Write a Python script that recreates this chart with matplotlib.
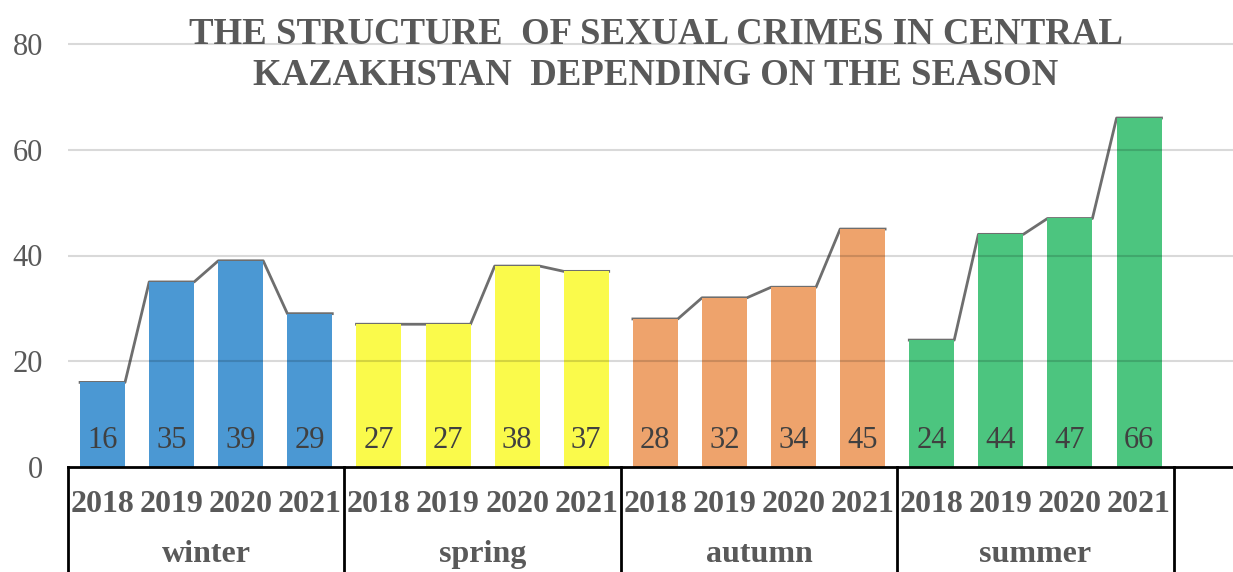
import matplotlib.pyplot as plt
import matplotlib.transforms as mtransforms
import numpy as np

plt.rcParams['font.family'] = ['Liberation Serif', 'DejaVu Serif']

# Number of sexual crimes per season and year
seasons = ["winter", "spring", "autumn", "summer"]
years = ["2018", "2019", "2020", "2021"]
winter = [16, 35, 39, 29]
spring = [27, 27, 38, 37]
autumn = [28, 32, 34, 45]
summer = [24, 44, 47, 66]
season_colors = ["#4B98D3", "#FAFA4B", "#EEA36C", "#4CC57F"]

series = [winter, spring, autumn, summer]
text_gray = "#595959"
bar_w = 0.65

fig = plt.figure(figsize=(12.33, 5.72), dpi=100)
ax = fig.add_axes([68 / 1233, 105 / 572, 1 - 68 / 1233, 467 / 572])

for s, (vals, color) in enumerate(zip(series, season_colors)):
    x = np.arange(len(vals)) + s * len(years)
    ax.bar(x, vals, width=bar_w, color=color, zorder=3)
    # trend line along the bar tops; only the slopes between bars stay visible
    lx = np.column_stack([x - bar_w / 2, x + bar_w / 2]).ravel()
    ly = np.repeat(vals, 2)
    ax.plot(lx, ly, color="#6E6E6E", lw=2, zorder=2)
    for xi, v in zip(x, vals):
        ax.text(xi, 5, str(v), ha="center", va="center", fontsize=22,
                color="#404040", zorder=5)

n = len(seasons) * len(years)
ax.set_xlim(-0.5, -0.5 + 1165 / 69.1)
ax.set_ylim(0, 80 * 467 / 423)
yticks = [0, 20, 40, 60, 80]
ax.set_yticks(yticks)
for yv in yticks[1:]:
    ax.axhline(yv, color="black", alpha=0.15, lw=1.5, zorder=4)
ax.tick_params(axis="y", length=0, labelsize=22, labelcolor=text_gray, pad=18)
ax.set_xticks([])
for side in ["left", "right", "top"]:
    ax.spines[side].set_visible(False)
ax.spines["bottom"].set_linewidth(2)
ax.spines["bottom"].set_color("black")
ax.spines["bottom"].set_zorder(6)

# two-level category axis: years under each bar, seasons under each group
trans = mtransforms.blended_transform_factory(ax.transData, ax.transAxes)
for i in range(n):
    ax.text(i, -37 / 467, years[i % len(years)], transform=trans, ha="center",
            va="center", fontsize=23, fontweight="bold", color=text_gray)
for s, name in enumerate(seasons):
    ax.text(s * 4 + 1.5, -95 / 467, name, transform=trans, ha="center",
            va="baseline", fontsize=23, fontweight="bold", color=text_gray)
for b in np.arange(len(seasons) + 1) * 4 - 0.5:
    ax.plot([b, b], [0, -0.3], transform=trans, color="black", lw=2,
            clip_on=False)

fig.text(656 / 1233, 1 - 55 / 572,
         "THE STRUCTURE  OF SEXUAL CRIMES IN CENTRAL\nKAZAKHSTAN  DEPENDING ON THE SEASON",
         ha="center", va="center", fontsize=26.5, fontweight="bold",
         color=text_gray, linespacing=1.2)

fig.savefig("out.png", dpi=100)
